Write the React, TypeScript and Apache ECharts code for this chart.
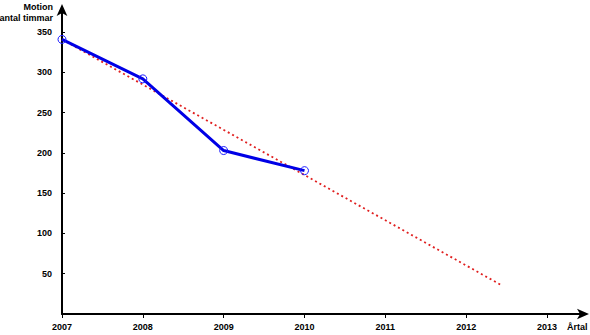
import React, { useEffect, useRef } from "react";
import * as echarts from "echarts";

const years = [2007, 2008, 2009, 2010];
const hours = [341, 292, 203, 178];
const trendYears = [2007, 2012.45];
const trendHours = [341, 35];
const yTicks = [50, 100, 150, 200, 250, 300, 350];

const FONT = "Liberation Sans, Arial, sans-serif";

export default function App() {
  const ref = useRef<HTMLDivElement>(null);
  useEffect(() => {
    if (!ref.current) return;
    const chart = echarts.init(ref.current, undefined, { renderer: "svg" });
    chart.setOption({
      animation: false,
      backgroundColor: "#ffffff",
      grid: { left: 62, right: 5, top: 8, bottom: 21 },
      xAxis: {
        type: "value",
        min: 2007,
        max: 2013.47,
        interval: 1,
        splitLine: { show: false },
        axisLine: {
          lineStyle: { color: "#000", width: 2 },
          symbol: ["none", "arrow"],
          symbolSize: [8, 12],
          symbolOffset: [0, 4],
        },
        axisTick: { show: true, length: 4, lineStyle: { color: "#000" } },
        axisLabel: {
          showMaxLabel: false,
          margin: 8,
          color: "#000",
          fontFamily: FONT,
          fontWeight: "bold",
          fontSize: 9,
          formatter: (v: number) => String(Math.round(v)),
        },
      },
      yAxis: {
        type: "value",
        min: 0,
        max: 380,
        interval: 50,
        splitLine: { show: false },
        axisLine: {
          show: true,
          lineStyle: { color: "#000", width: 2 },
          symbol: ["none", "arrow"],
          symbolSize: [8, 12],
          symbolOffset: [0, 4],
        },
        axisTick: { show: true, inside: true, length: 3, lineStyle: { color: "#000" } },
        axisLabel: {
          showMinLabel: false,
          showMaxLabel: false,
          margin: 10,
          color: "#000",
          fontFamily: FONT,
          fontWeight: "bold",
          fontSize: 9,
          formatter: (v: number) => (yTicks.includes(v) ? String(v) : ""),
        },
      },
      graphic: [
        {
          type: "text",
          x: 53,
          y: 2,
          style: {
            text: "Motion",
            align: "right",
            verticalAlign: "top",
            fontFamily: FONT,
            fontWeight: "bold",
            fontSize: 9,
            fill: "#000",
          },
        },
        {
          type: "text",
          x: 53,
          y: 13,
          style: {
            text: "antal timmar",
            align: "right",
            verticalAlign: "top",
            fontFamily: FONT,
            fontWeight: "bold",
            fontSize: 9,
            fill: "#000",
          },
        },
        {
          type: "text",
          x: 567,
          y: 322,
          style: {
            text: "Årtal",
            verticalAlign: "top",
            fontFamily: FONT,
            fontWeight: "bold",
            fontSize: 9,
            fill: "#000",
          },
        },
      ],
      series: [
        {
          type: "line",
          data: trendYears.map((y, i) => [y, trendHours[i]]),
          symbol: "none",
          lineStyle: { color: "#e02020", width: 1.8, type: [2, 3] },
          z: 2,
        },
        {
          type: "line",
          data: years.map((y, i) => [y, hours[i]]),
          symbol: "circle",
          symbolSize: 8,
          itemStyle: { color: "rgba(255,255,255,0)", borderColor: "#1a1aff", borderWidth: 1 },
          lineStyle: { color: "#0000e6", width: 3 },
          z: 3,
        },
      ],
    });
    return () => chart.dispose();
  }, []);
  return <div ref={ref} style={{ width: 590, height: 335, position: "absolute", left: 0, top: 0 }} />;
}
